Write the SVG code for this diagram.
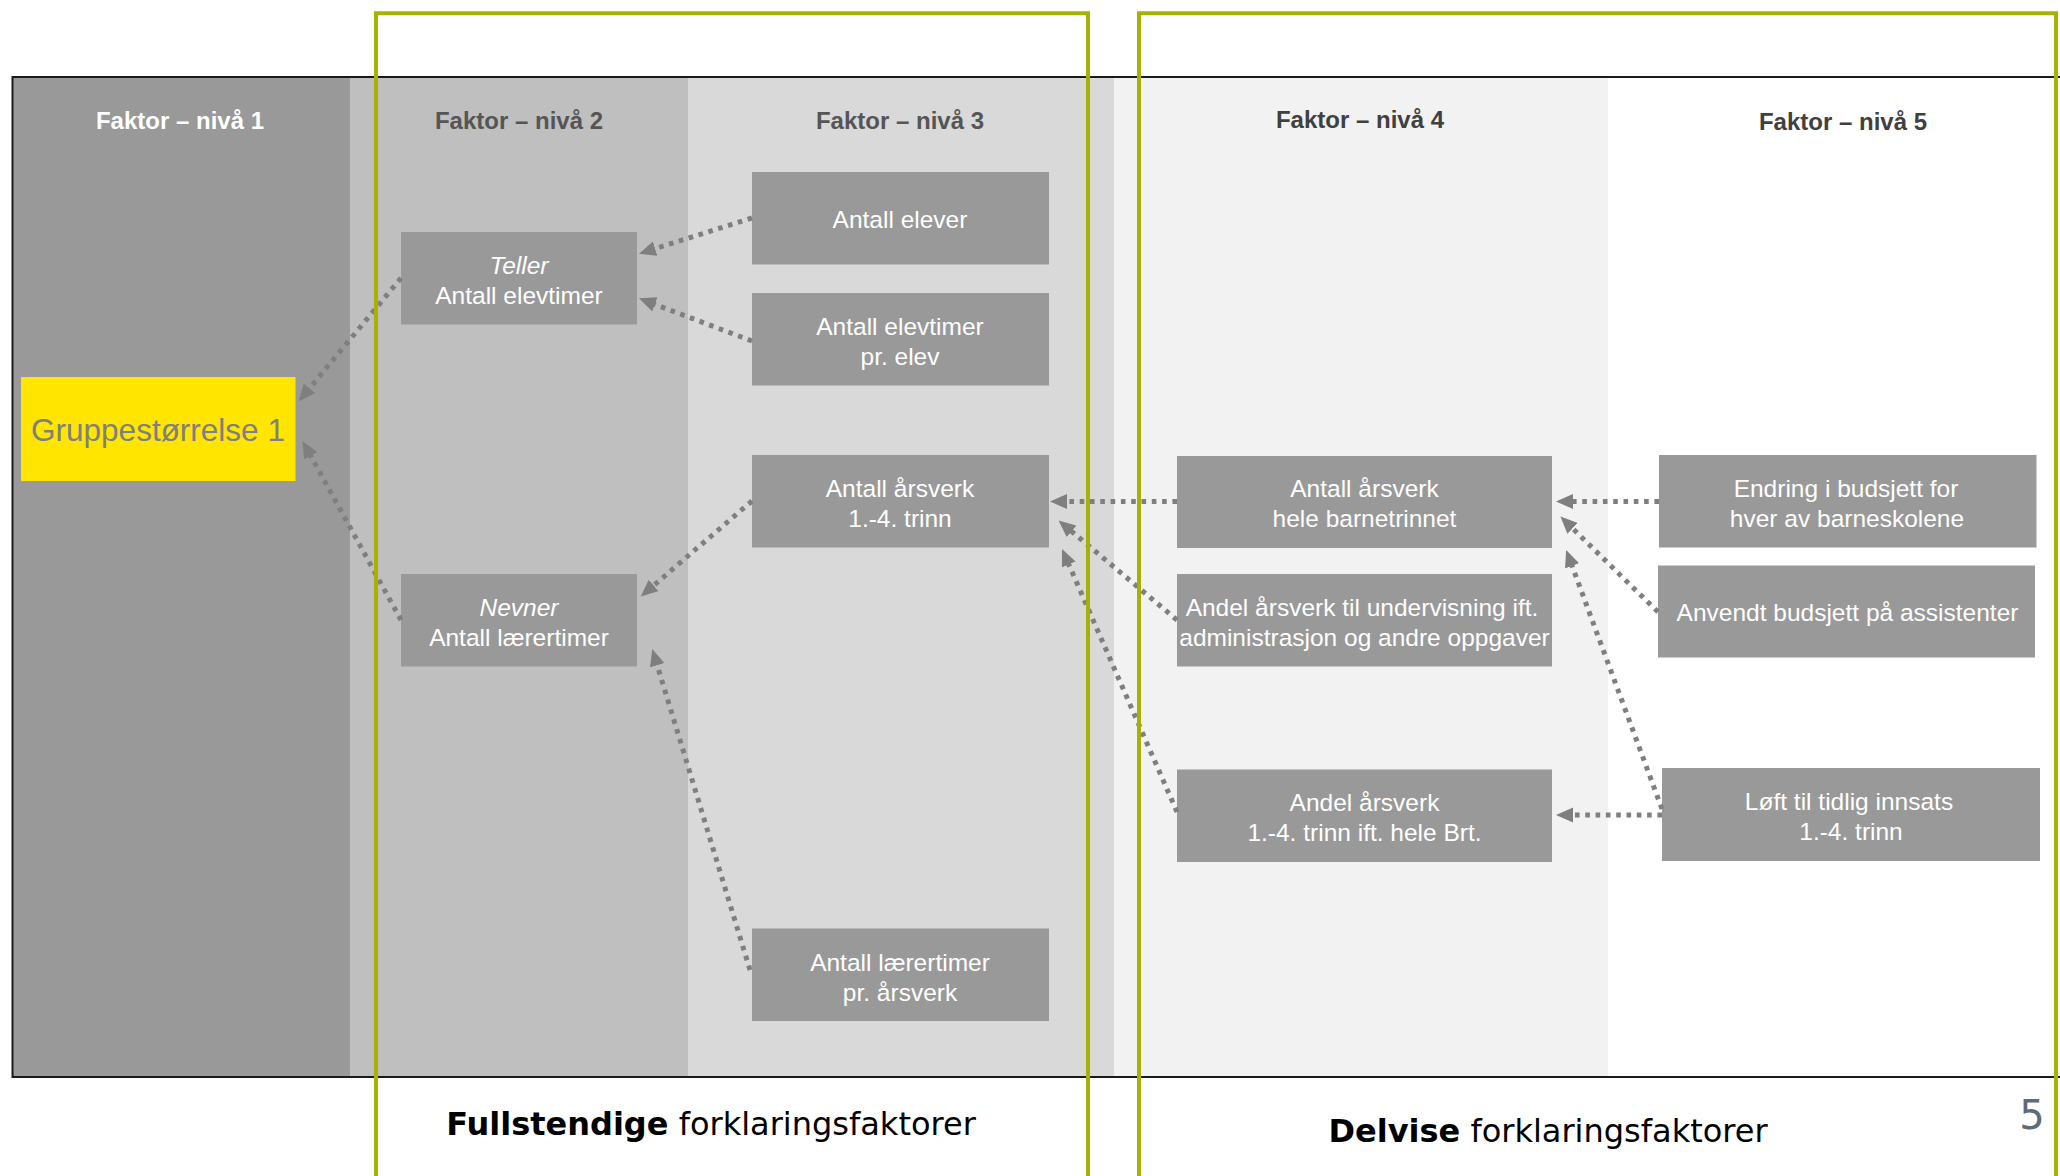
<svg xmlns="http://www.w3.org/2000/svg" width="2060" height="1176" viewBox="0 0 2060 1176">
<style>
.node{fill:#999999}
.nt{font-family:"Liberation Sans",Arial,sans-serif;font-size:24.5px;fill:#FFFFFF;text-anchor:middle}
.hd{font-family:"Liberation Sans",Arial,sans-serif;font-size:24px;font-weight:bold;text-anchor:middle}
.con{fill:none;stroke:#7F7F7F;stroke-width:5;stroke-dasharray:4.6 5.7;marker-end:url(#ah)}
.green{fill:none;stroke:#A5B300;stroke-width:4}
.foot{font-family:"DejaVu Sans",Verdana,sans-serif;font-size:32px;fill:#000000;text-anchor:middle}
</style>
<defs>
<marker id="ah" markerUnits="userSpaceOnUse" markerWidth="18" markerHeight="16" refX="1" refY="7.5" orient="auto">
<path d="M0,0 L17,7.5 L0,15 z" fill="#7F7F7F"/>
</marker>
</defs>
<rect width="2060" height="1176" fill="#FFFFFF"/>
<g id="columns">
<rect x="12.5" y="77" width="338" height="1000" fill="#999999"/>
<rect x="350" y="77" width="338" height="1000" fill="#BFBFBF"/>
<rect x="688" y="77" width="426" height="1000" fill="#D9D9D9"/>
<rect x="1114" y="77" width="494" height="1000" fill="#F2F2F2"/>
<rect x="1608" y="77" width="460" height="1000" fill="#FFFFFF"/>
<rect x="12.5" y="77" width="2060" height="1000" fill="none" stroke="#1A1A1A" stroke-width="2"/>
<text class="hd" x="180" y="129" fill="#FFFFFF">Faktor – nivå 1</text>
<text class="hd" x="519" y="129" fill="#555555">Faktor – nivå 2</text>
<text class="hd" x="900" y="129" fill="#555555">Faktor – nivå 3</text>
<text class="hd" x="1360" y="128" fill="#404040">Faktor – nivå 4</text>
<text class="hd" x="1843" y="130" fill="#404040">Faktor – nivå 5</text>
</g>
<g id="n-gruppe">
<rect x="21" y="377" width="274.5" height="104" fill="#FFE500"/>
<text x="158" y="441" font-family="'Liberation Sans',Arial,sans-serif" font-size="31.5" fill="#7F7F7F" text-anchor="middle">Gruppestørrelse 1</text>
</g>
<g id="n-teller">
<rect class="node" x="401" y="232" width="236" height="92.5"/>
<text class="nt" x="519" y="274"><tspan font-style="italic">Teller</tspan></text>
<text class="nt" x="519" y="304">Antall elevtimer</text>
</g>
<g id="n-nevner">
<rect class="node" x="401" y="574" width="236" height="92.5"/>
<text class="nt" x="519" y="616"><tspan font-style="italic">Nevner</tspan></text>
<text class="nt" x="519" y="646">Antall lærertimer</text>
</g>
<g id="n-elever">
<rect class="node" x="752" y="172" width="297" height="92.5"/>
<text class="nt" x="900" y="227.5">Antall elever</text>
</g>
<g id="n-elevtimer">
<rect class="node" x="752" y="293" width="297" height="92.5"/>
<text class="nt" x="900" y="335">Antall elevtimer</text>
<text class="nt" x="900" y="365">pr. elev</text>
</g>
<g id="n-arsverk14">
<rect class="node" x="752" y="455" width="297" height="92.5"/>
<text class="nt" x="900" y="496.5">Antall årsverk</text>
<text class="nt" x="900" y="526.5">1.-4. trinn</text>
</g>
<g id="n-laerertimer">
<rect class="node" x="752" y="928.5" width="297" height="92.5"/>
<text class="nt" x="900" y="970.5">Antall lærertimer</text>
<text class="nt" x="900" y="1000.5">pr. årsverk</text>
</g>
<g id="n-arsverkhele">
<rect class="node" x="1177" y="456" width="375" height="92"/>
<text class="nt" x="1364.5" y="497">Antall årsverk</text>
<text class="nt" x="1364.5" y="527">hele barnetrinnet</text>
</g>
<g id="n-andelund">
<rect class="node" x="1177" y="574" width="375" height="92.5"/>
<text class="nt" x="1362" y="616">Andel årsverk til undervisning ift.</text>
<text class="nt" x="1364.5" y="646">administrasjon og andre oppgaver</text>
</g>
<g id="n-andel14">
<rect class="node" x="1177" y="769.5" width="375" height="92.5"/>
<text class="nt" x="1364.5" y="811">Andel årsverk</text>
<text class="nt" x="1364.5" y="841">1.-4. trinn ift. hele Brt.</text>
</g>
<g id="n-endring">
<rect class="node" x="1659" y="455" width="377.5" height="92.5"/>
<text class="nt" x="1846" y="496.5">Endring i budsjett for</text>
<text class="nt" x="1847" y="526.5">hver av barneskolene</text>
</g>
<g id="n-anvendt">
<rect class="node" x="1658" y="565.5" width="377" height="92"/>
<text class="nt" x="1847.5" y="621">Anvendt budsjett på assistenter</text>
</g>
<g id="n-loft">
<rect class="node" x="1662" y="768" width="378" height="93"/>
<text class="nt" x="1849" y="810">Løft til tidlig innsats</text>
<text class="nt" x="1851" y="840">1.-4. trinn</text>
</g>
<g id="connectors">
<path class="con" d="M401,278 L308.9,389"/>
<path class="con" d="M401,620 L310.2,454.9"/>
<path class="con" d="M752,218 L654.2,248.9"/>
<path class="con" d="M752,341 L653.9,304"/>
<path class="con" d="M752,501 L652.9,586.1"/>
<path class="con" d="M750,970 L656.9,664.3"/>
<path class="con" d="M1177,501.5 L1066,501.5"/>
<path class="con" d="M1177,620 L1070.8,530.7"/>
<path class="con" d="M1177,812 L1068.4,563.6"/>
<path class="con" d="M1659,501.5 L1572,501.5"/>
<path class="con" d="M1658,612 L1571.9,527.7"/>
<path class="con" d="M1662,809 L1571.7,564.9"/>
<path class="con" d="M1662,815 L1572,815"/>
</g>
<g id="groups">
<path class="green" d="M376,1180 L376,13.3 L1088,13.3 L1088,1180"/>
<path class="green" d="M1139,1180 L1139,13.3 L2056,13.3 L2056,1180"/>
<text class="foot" x="711" y="1135"><tspan font-weight="bold">Fullstendige</tspan> forklaringsfaktorer</text>
<text class="foot" x="1548" y="1142"><tspan font-weight="bold">Delvise</tspan> forklaringsfaktorer</text>
<text x="2032" y="1129" font-family="'DejaVu Sans',Verdana,sans-serif" font-size="40" fill="#5F6B79" text-anchor="middle">5</text>
</g>
</svg>
